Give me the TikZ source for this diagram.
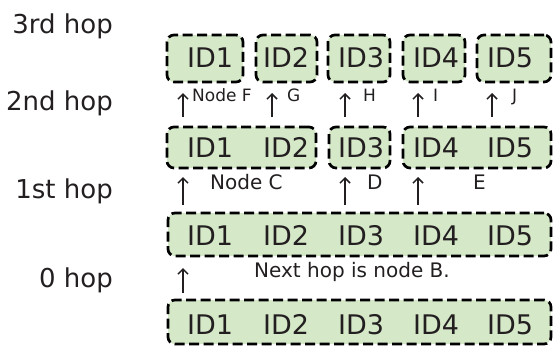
\documentclass[tikz,border=0pt]{standalone}
\usepackage{fontspec}
\setmainfont{DejaVu Sans}
\usetikzlibrary{arrows.meta}
\definecolor{boxfill}{HTML}{D5E8C8}
\definecolor{ink}{HTML}{231F20}
\tikzset{
  hopbox/.style={draw=black, fill=boxfill, line width=2.7pt, dash pattern=on 10pt off 4.5pt,
    rounded corners=7pt, inner sep=0pt, outer sep=0pt},
  idtxt/.style={anchor=base, text=ink, font=\fontsize{27}{27}\selectfont, inner sep=0pt},
  hoplbl/.style={anchor=base east, text=ink, font=\fontsize{26}{26}\selectfont, inner sep=0pt},
  small/.style={anchor=base west, text=ink, font=\fontsize{17}{17}\selectfont, inner sep=0pt},
  mid/.style={anchor=base west, text=ink, font=\fontsize{20}{20}\selectfont, inner sep=0pt},
  arr/.style={-{Straight Barb[length=5pt,width=10pt]}, line width=1.5pt, ink}
}
\begin{document}
\begin{tikzpicture}[x=1pt,y=-1pt]
\useasboundingbox (0,0) rectangle (553,346);
% boxes
\node[hopbox, minimum width=383pt, minimum height=44pt] (r0) at (359.5,322) {};
\node[hopbox, minimum width=383pt, minimum height=43pt] (r1) at (359.5,234.5) {};
\node[hopbox, minimum width=149pt, minimum height=41pt] (r2a) at (241.5,147.5) {};
\node[hopbox, minimum width=61pt, minimum height=41pt] (r2b) at (359.5,147.5) {};
\node[hopbox, minimum width=148pt, minimum height=41pt] (r2c) at (477,147.5) {};
\node[hopbox, minimum width=76pt, minimum height=47pt] (r3a) at (205,58.5) {};
\node[hopbox, minimum width=61pt, minimum height=47pt] (r3b) at (286.5,58.5) {};
\node[hopbox, minimum width=62pt, minimum height=47pt] (r3c) at (359,58.5) {};
\node[hopbox, minimum width=62pt, minimum height=47pt] (r3d) at (434,58.5) {};
\node[hopbox, minimum width=74pt, minimum height=47pt] (r3e) at (514,58.5) {};
% IDs
\foreach \r/\y in {0/334,1/245,2/157,3/67}{
  \node[idtxt] (id\r a) at (210,\y) {ID1};
  \node[idtxt] (id\r b) at (286,\y) {ID2};
  \node[idtxt] (id\r c) at (361,\y) {ID3};
  \node[idtxt] (id\r d) at (436,\y) {ID4};
  \node[idtxt] (id\r e) at (510,\y) {ID5};
}
% hop labels
\node[hoplbl] (h3) at (113,33) {3rd hop};
\node[hoplbl] (h2) at (113,110) {2nd hop};
\node[hoplbl] (h1) at (113,198) {1st hop};
\node[hoplbl] (h0) at (113,287) {0 hop};
% arrow x positions
\coordinate (xa) at (183,0);
\coordinate (xb) at (272,0);
\coordinate (xc) at (345,0);
\coordinate (xd) at (418,0);
\coordinate (xe) at (492,0);
% arrows
\draw[arr] ([yshift=7pt]r0.north -| xa) -- ([yshift=-12pt]r1.south -| xa);
\draw[arr] ([yshift=8pt]r1.north -| xa) -- ([yshift=-9pt]r2a.south -| xa);
\draw[arr] ([yshift=8pt]r1.north -| xc) -- ([yshift=-9pt]r2b.south -| xc);
\draw[arr] ([yshift=8pt]r1.north -| xd) -- ([yshift=-9pt]r2c.south -| xd);
\draw[arr] ([yshift=10pt]r2a.north -| xa) -- ([yshift=-11pt]r3a.south -| xa);
\draw[arr] ([yshift=10pt]r2a.north -| xb) -- ([yshift=-11pt]r3b.south -| xb);
\draw[arr] ([yshift=10pt]r2b.north -| xc) -- ([yshift=-11pt]r3c.south -| xc);
\draw[arr] ([yshift=10pt]r2c.north -| xd) -- ([yshift=-11pt]r3d.south -| xd);
\draw[arr] ([yshift=10pt]r2c.north -| xe) -- ([yshift=-11pt]r3e.south -| xe);
% labels
\node[small] (lf) at (192,101) {Node F};
\node[small] (lg) at (287,101) {G};
\node[small] (lh) at (363,101) {H};
\node[small] (li) at (433,101) {I};
\node[small] (lj) at (512,101) {J};
\node[mid] (lc) at (210,189) {Node C};
\node[mid] (ld) at (367,189) {D};
\node[mid] (le) at (473,189) {E};
\node[mid] (lb) at (254,277) {Next hop is node B.};
\end{tikzpicture}
\end{document}
